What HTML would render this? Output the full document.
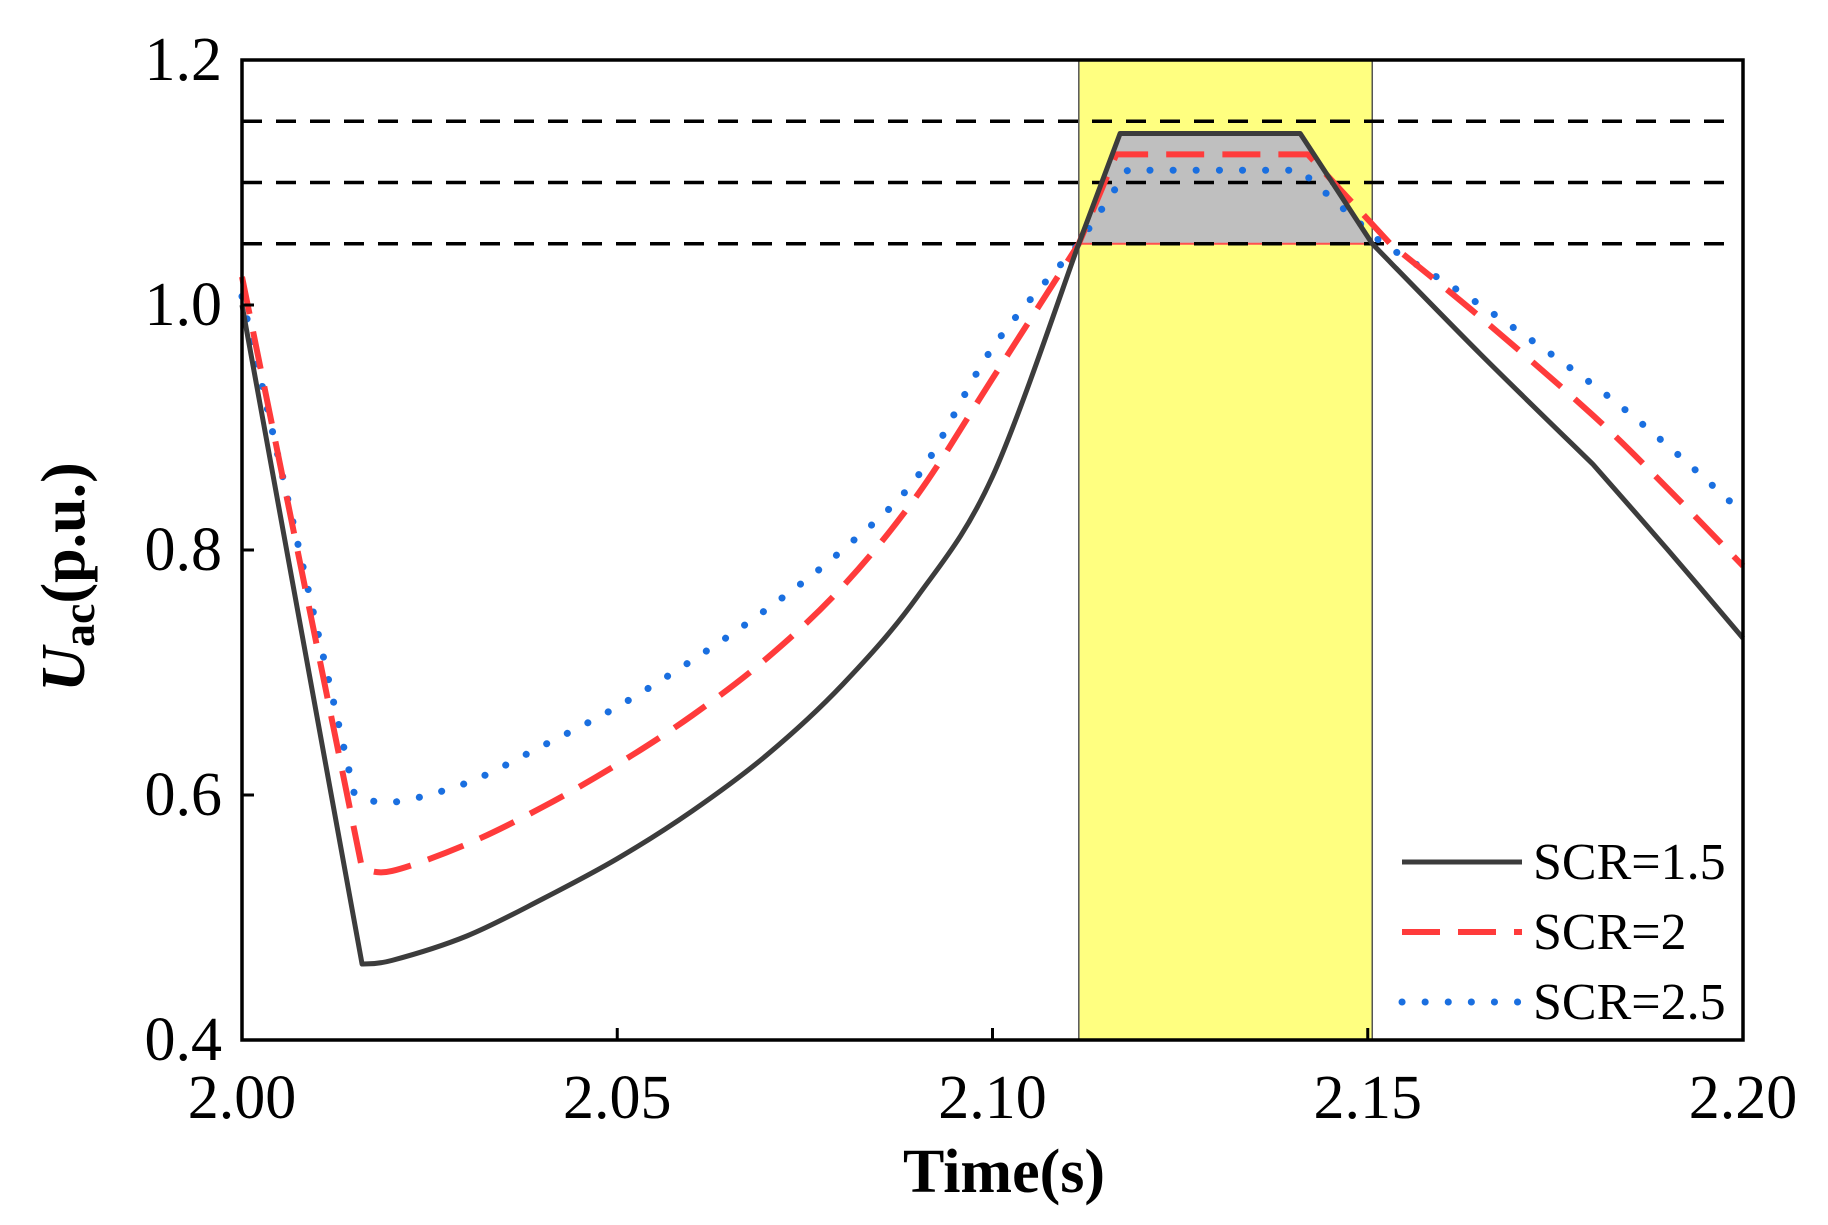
<!DOCTYPE html>
<html><head><meta charset="utf-8"><style>
html,body{margin:0;padding:0;background:#fff}
svg{display:block}
text{font-family:"Liberation Serif",serif;fill:#000}
</style></head><body>
<svg id="chart" width="1828" height="1225" viewBox="0 0 1828 1225">
<g id="bg"></g><g id="lines"></g><g id="axes"></g>
</svg>
<script>
const xTicks=[2.00,2.05,2.10,2.15,2.20];
const xTickLabels=["2.00","2.05","2.10","2.15","2.20"];
const yTicks=[0.4,0.6,0.8,1.0,1.2];
const yTickLabels=["0.4","0.6","0.8","1.0","1.2"];
const thresholds=[1.05,1.10,1.15];
const bandRange=[2.1115,2.1506];
const t15=[2.0,2.016,2.02,2.03,2.04,2.05,2.06,2.07,2.08,2.09,2.10,2.1115,2.117,2.141,2.1506,2.165,2.18,2.19,2.20];
const v15=[1.0,0.462,0.465,0.485,0.515,0.548,0.587,0.633,0.69,0.762,0.86,1.05,1.14,1.14,1.05,0.96,0.87,0.80,0.728];
const k15=[0,1,11,12,13,14,16,18];
const t20=[2.0,2.016,2.02,2.03,2.04,2.05,2.06,2.07,2.08,2.09,2.10,2.1115,2.1165,2.142,2.153,2.165,2.18,2.19,2.20];
const v20=[1.023,0.54,0.538,0.56,0.59,0.625,0.665,0.712,0.77,0.845,0.94,1.05,1.123,1.123,1.05,0.99,0.91,0.85,0.787];
const k20=[0,1,11,12,13,14,18];
const t25=[2.0,2.015,2.02,2.03,2.04,2.05,2.06,2.07,2.08,2.09,2.10,2.1115,2.118,2.141,2.152,2.165,2.18,2.19,2.20];
const v25=[1.007,0.6,0.594,0.61,0.64,0.672,0.71,0.752,0.80,0.86,0.965,1.05,1.11,1.11,1.05,1.0,0.935,0.885,0.83];
const k25=[0,1,11,12,13,14,18];

const L=242,R=1743,T=60,B=1040;
const X=t=>L+(t-2.0)/0.2*(R-L);
const Y=v=>B-(v-0.4)/0.8*(B-T);
const NS="http://www.w3.org/2000/svg";
function mk(tag,parent,attrs){const e=document.createElementNS(NS,tag);for(const k in attrs)e.setAttribute(k,attrs[k]);parent.appendChild(e);return e;}
const bg=document.getElementById('bg'),lines=document.getElementById('lines'),axes=document.getElementById('axes');

let band=mk('rect',bg,{x:X(bandRange[0]),y:T,width:X(bandRange[1])-X(bandRange[0]),height:B-T,fill:'#ffff80',stroke:'#555','stroke-width':1.5});



let pts=[];
for(let i=0;i<t15.length;i++){if(t15[i]>=bandRange[0]-1e-6&&t15[i]<=bandRange[1]+1e-6)pts.push(X(t15[i])+','+Y(v15[i]));}
let fillp=mk('polygon',bg,{points:pts.join(' '),fill:'#bfbfbf',stroke:'none'});


let redl=mk('line',bg,{x1:X(bandRange[0]),x2:X(bandRange[1]),y1:Y(1.05),y2:Y(1.05),stroke:'#ff5050','stroke-width':2});



thresholds.forEach(v=>{
 let l=mk('line',bg,{x1:L,x2:R-10,y1:Y(v),y2:Y(v),stroke:'#000','stroke-width':3.5,'stroke-dasharray':'20 14'});
 
 
});

function pathFor(ts,vs,kinks){
 const P=ts.map((t,i)=>[X(t),Y(vs[i])]);
 let d='M'+P[0][0]+','+P[0][1];
 for(let s=0;s<kinks.length-1;s++){
  const a=kinks[s],b=kinks[s+1];
  for(let i=a;i<b;i++){
   const p0=P[Math.max(i-1,a)],p1=P[i],p2=P[i+1],p3=P[Math.min(i+2,b)];
   const c1=[p1[0]+(p2[0]-p0[0])/6,p1[1]+(p2[1]-p0[1])/6];
   const c2=[p2[0]-(p3[0]-p1[0])/6,p2[1]-(p3[1]-p1[1])/6];
   d+=' C'+c1[0]+','+c1[1]+' '+c2[0]+','+c2[1]+' '+p2[0]+','+p2[1];
  }
 }
 return d;
}
function series(ts,vs,ks,style,name){
 let e=mk('path',lines,Object.assign({d:pathFor(ts,vs,ks),fill:'none','stroke-linejoin':'round'},style));
 
 
}
const s25={stroke:'#1a6fe0','stroke-width':7,'stroke-dasharray':'0.1 23','stroke-linecap':'round'};
const s20={stroke:'#ff3b3b','stroke-width':6,'stroke-dasharray':'38 18'};
const s15={stroke:'#3c3c3c','stroke-width':5};
series(t25,v25,k25,s25,'series-scr-2.5');
series(t20,v20,k20,s20,'series-scr-2');
series(t15,v15,k15,s15,'series-scr-1.5');

let frame=mk('rect',axes,{x:L,y:T,width:R-L,height:B-T,fill:'none',stroke:'#000','stroke-width':3.5});


xTicks.forEach((t,i)=>{
 let tk=mk('line',axes,{x1:X(t),x2:X(t),y1:B,y2:B-12,stroke:'#000','stroke-width':3});
 
 
 let tx=mk('text',axes,{x:X(t),y:1118,'text-anchor':'middle','font-size':62});
 tx.textContent=xTickLabels[i];
 
 
});
yTicks.forEach((v,i)=>{
 let tk=mk('line',axes,{x1:L,x2:L+12,y1:Y(v),y2:Y(v),stroke:'#000','stroke-width':3});
 
 
 let tx=mk('text',axes,{x:222,y:Y(v)+20,'text-anchor':'end','font-size':62});
 tx.textContent=yTickLabels[i];
 
 
});
let xt=mk('text',axes,{x:1004,y:1192,'text-anchor':'middle','font-size':62,'font-weight':'bold'});
xt.textContent='Time(s)';


let yt=mk('text',axes,{x:0,y:0,'text-anchor':'middle','font-size':62,'font-weight':'bold',transform:'translate(84,577) rotate(-90)'});
yt.innerHTML='<tspan font-style="italic">U</tspan><tspan font-size="46" dy="10">ac</tspan><tspan dy="-10">(p.u.)</tspan>';



const legNames=['SCR=1.5','SCR=2','SCR=2.5'];
const legStyles=[s15,s20,s25];
legNames.forEach((n,i)=>{
 let y=862+i*70;
 let g=mk('g',axes,{});
 
 
 mk('line',g,Object.assign({x1:1402,x2:1522,y1:y,y2:y},legStyles[i]));
 let tx=mk('text',g,{x:1533,y:y+17,'font-size':52});
 tx.textContent=n;
});
</script>
</body></html>
